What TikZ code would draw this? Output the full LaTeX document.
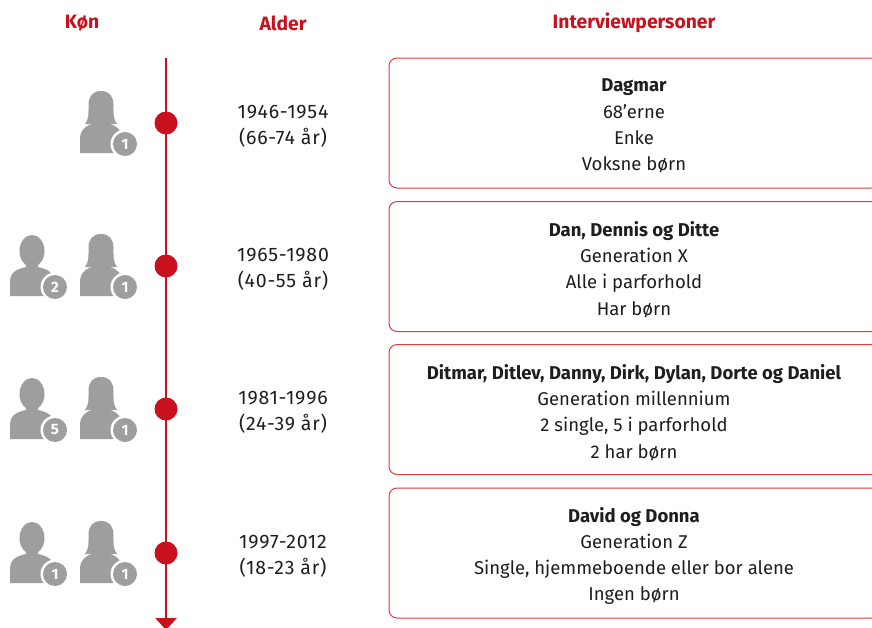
\documentclass[tikz,border=0pt]{standalone}
\usepackage{fontspec}
\setmainfont{Fira Sans}
\newfontfamily\agefont[LetterSpace=4]{Fira Sans}
\usetikzlibrary{arrows.meta}
\definecolor{tlred}{RGB}{200,16,30}
\definecolor{boxred}{RGB}{222,60,64}
\definecolor{icongray}{RGB}{158,158,158}
\definecolor{txt}{RGB}{30,30,30}
\tikzset{
  hdr/.style={text=tlred,font=\fontsize{19.3}{22}\selectfont\bfseries},
  agetxt/.style={align=center,font=\agefont\fontsize{19.5}{26}\selectfont,text=txt},
  card/.style={draw=boxred,line width=1pt,rounded corners=8pt,minimum width=490pt,
    minimum height=130pt},
  cardtxt/.style={align=center,font=\fontsize{18.5}{26.2}\selectfont,text=txt},
  tldot/.style={circle,fill=tlred,minimum size=23pt,inner sep=0pt},
  badge/.style={circle,fill=icongray,minimum size=24pt,inner sep=0pt,text=white,
    font=\fontsize{15}{15}\selectfont\bfseries},
  male/.pic={
    \fill[icongray] (0,-15) ellipse[x radius=12.5,y radius=16];
    \fill[icongray] (-6,-6) rectangle (6,3);
    \fill[icongray] (-22,30) -- (-22,16) .. controls (-22,6) and (-15,3) .. (-6,1)
      -- (6,1) .. controls (15,3) and (22,6) .. (22,16) -- (22,30) -- cycle;
    \fill[white] (23,21) circle[radius=14.5];
    \node[badge] (-num) at (23,21) {#1};
  },
  female/.pic={
    \fill[icongray] (0,-32) .. controls (9,-32) and (12.5,-26) .. (12.5,-18)
      .. controls (12.5,-10) and (12,-4) .. (16,1) -- (-16,1)
      .. controls (-12,-4) and (-12.5,-10) .. (-12.5,-18)
      .. controls (-12.5,-26) and (-9,-32) .. (0,-32) -- cycle;
    \fill[icongray] (-21,30) -- (-21,16) .. controls (-21,6) and (-14,2) .. (-6,0)
      -- (6,0) .. controls (14,2) and (21,6) .. (21,16) -- (21,30) -- cycle;
    \fill[white] (24,21) circle[radius=14.5];
    \node[badge] (-num) at (24,21) {#1};
  }
}
\begin{document}
\begin{tikzpicture}[x=1pt,y=-1pt]
\useasboundingbox[fill=white] (0,0) rectangle (872,627);
% headers
\node[hdr] (hk) at (82,23) {Køn};
\node[hdr] (ha) at (283,23) {Alder};
\node[hdr] (hi) at (634,23) {Interviewpersoner};
% timeline
\coordinate (ttop) at (166,58);
\coordinate (tbot) at (166,630);
\draw[tlred,line width=2.6pt,-{Triangle[width=21pt,length=12pt]}] (ttop) -- (tbot);
\node[tldot] (d1) at (166,123) {};
\node[tldot] (d2) at (166,266) {};
\node[tldot] (d3) at (166,409) {};
\node[tldot] (d4) at (166,553) {};
% icons
\pic (f1) at (101,123) {female=1};
\pic (m2) at (32,266) {male=2};
\pic (f2) at (101,266) {female=1};
\pic (m3) at (32,409) {male=5};
\pic (f3) at (101,409) {female=1};
\pic (m4) at (32,553) {male=1};
\pic (f4) at (101,553) {female=1};
% ages
\node[agetxt] (a1) at (283,126) {1946-1954\\(66-74 år)};
\node[agetxt] (a2) at (283,269) {1965-1980\\(40-55 år)};
\node[agetxt] (a3) at (283,412) {1981-1996\\(24-39 år)};
\node[agetxt] (a4) at (283,556) {1997-2012\\(18-23 år)};
% cards
\node[card] (c1) at (634,123) {};
\node[card] (c2) at (634,266.5) {};
\node[card] (c3) at (634,409.5) {};
\node[card] (c4) at (634,553) {};
\node[cardtxt] (c1t) at (634,126) {\textbf{Dagmar}\\68’erne\\Enke\\Voksne børn};
\node[cardtxt] (c2t) at (634,269.5) {\textbf{Dan, Dennis og Ditte}\\Generation X\\Alle i parforhold\\Har børn};
\node[cardtxt] (c3t) at (634,412.5) {\textbf{Ditmar, Ditlev, Danny, Dirk, Dylan, Dorte og Daniel}\\Generation millennium\\2 single, 5 i parforhold\\2 har børn};
\node[cardtxt] (c4t) at (634,556) {\textbf{David og Donna}\\Generation Z\\Single, hjemmeboende eller bor alene\\Ingen børn};
\end{tikzpicture}
\end{document}
